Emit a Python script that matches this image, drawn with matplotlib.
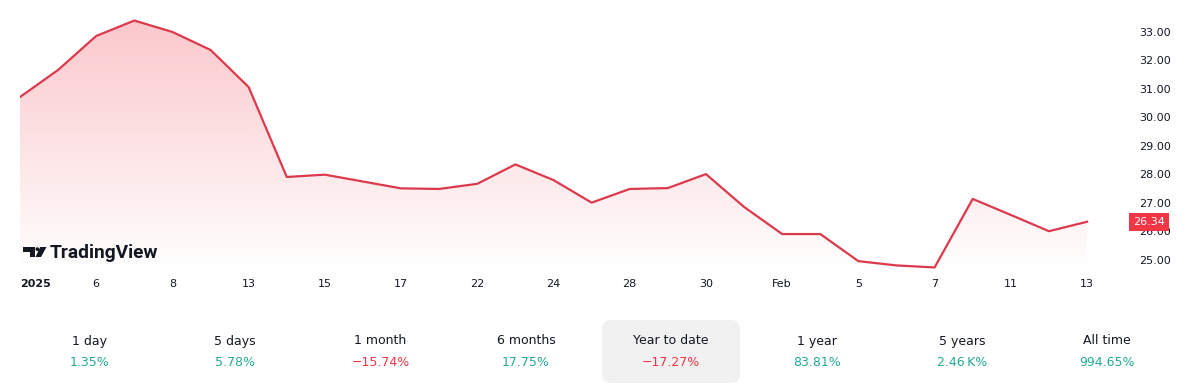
import numpy as np
import matplotlib.pyplot as plt
from matplotlib.patches import Polygon, Circle, FancyBboxPatch
import matplotlib.transforms as mtransforms

# Donnees (cours de cloture, 2 janv. -> 13 fev. 2025)
dates = ["Jan 2", "Jan 3", "Jan 6", "Jan 7", "Jan 8", "Jan 10", "Jan 13", "Jan 14",
         "Jan 15", "Jan 16", "Jan 17", "Jan 21", "Jan 22", "Jan 23", "Jan 24", "Jan 27",
         "Jan 28", "Jan 29", "Jan 30", "Jan 31", "Feb 3", "Feb 4", "Feb 5", "Feb 6",
         "Feb 7", "Feb 10", "Feb 11", "Feb 12", "Feb 13"]
close = [30.71, 31.66, 32.85, 33.39, 32.99, 32.36, 31.06, 27.91,
         27.99, 27.75, 27.51, 27.49, 27.67, 28.35, 27.80, 27.01,
         27.49, 27.52, 28.01, 26.86, 25.91, 25.91, 24.96, 24.81,
         24.74, 27.14, 26.58, 26.01, 26.34]

tick_idx = [0, 2, 4, 6, 8, 10, 12, 14, 16, 18, 20, 22, 24, 26, 28]
tick_lab = ["2025", "6", "8", "13", "15", "17", "22", "24", "28", "30", "Feb", "5", "7", "11", "13"]
price_ticks = [25, 26, 27, 28, 29, 30, 31, 32, 33]

periods = ["1 day", "5 days", "1 month", "6 months", "Year to date", "1 year", "5 years", "All time"]
changes = ["1.35%", "5.78%", "\u221215.74%", "17.75%", "\u221217.27%", "83.81%", "2.46\u2009K%", "994.65%"]

RED = "#F23645"
LINE = "#dc3a4c"
GREEN = "#22AB94"
TXT = "#131722"

fig = plt.figure(figsize=(12, 3.9), dpi=100)
ax = fig.add_axes([20 / 1200, 1 - 272 / 390, 1080 / 1200, 272 / 390])
x = np.arange(len(close))
y = np.array(close)

ax.set_xlim(0, 28.34)
ax.set_ylim(24.58, 34.11)

# remplissage en degrade
fill = ax.fill_between(x, y, 24.58, color="none", lw=0)
grad = np.linspace(0.30, 0.0, 256).reshape(-1, 1)
rgba = np.zeros((256, 1, 4))
rgba[..., 0] = 242 / 255
rgba[..., 1] = 54 / 255
rgba[..., 2] = 69 / 255
rgba[..., 3] = grad
im = ax.imshow(rgba, aspect="auto", extent=[0, 28.34, 24.58, 34.11], origin="upper", zorder=1)
im.set_clip_path(fill.get_paths()[0], transform=ax.transData)

ax.plot(x, y, color=LINE, lw=1.6, zorder=3, solid_joinstyle="round")

for s in ax.spines.values():
    s.set_visible(False)

ax.set_xticks(tick_idx)
ax.set_xticklabels(tick_lab)
ax.tick_params(axis="x", length=0, pad=5, labelsize=8, labelcolor=TXT)
labs = ax.get_xticklabels()
labs[0].set_fontweight("bold")
labs[0].set_horizontalalignment("left")

ax.yaxis.tick_right()
ax.set_yticks(price_ticks)
ax.set_yticklabels([f"{v:.2f}" for v in price_ticks])
ax.tick_params(axis="y", length=0, pad=28, labelsize=8, labelcolor=TXT)

# etiquette du dernier cours
tr = mtransforms.blended_transform_factory(ax.transAxes, ax.transData)
ax.text(1.0455, close[-1], f"{close[-1]:.2f}", transform=tr, ha="center", va="center",
        fontsize=8, color="white", clip_on=False, zorder=5,
        bbox=dict(boxstyle="square,pad=0.35", fc=RED, ec="none"))

# calque en pixels pour le logo et les boutons
ov = fig.add_axes([0, 0, 1, 1])
ov.set_xlim(0, 1200)
ov.set_ylim(390, 0)
ov.axis("off")
ov.patch.set_visible(False)

ov.add_patch(Polygon([(23, 247), (35, 247), (35, 257), (30, 257), (30, 251.5), (23, 251.5)],
                     closed=True, fc=TXT, ec="none"))
ov.add_patch(Circle((37.4, 249.2), 1.9, fc=TXT, ec="none"))
ov.add_patch(Polygon([(40.2, 247), (46.5, 247), (41, 257), (35.5, 257)], closed=True, fc=TXT, ec="none"))
ov.text(50, 253, "TradingView", fontsize=13.8, fontweight="bold", family="Roboto",
        color=TXT, ha="left", va="center")

ov.add_patch(FancyBboxPatch((602, 320), 138, 63, boxstyle="round,pad=0,rounding_size=9",
                            fc="#f1f1f1", ec="none"))
for i, (p, c) in enumerate(zip(periods, changes)):
    cx = 90 + i * 145.3
    ov.text(cx, 341, p, fontsize=9, color=TXT, ha="center", va="center")
    col = RED if c.startswith("\u2212") else GREEN
    ov.text(cx, 362, c, fontsize=9, color=col, ha="center", va="center")

fig.savefig("out.png", dpi=100, facecolor="white")
